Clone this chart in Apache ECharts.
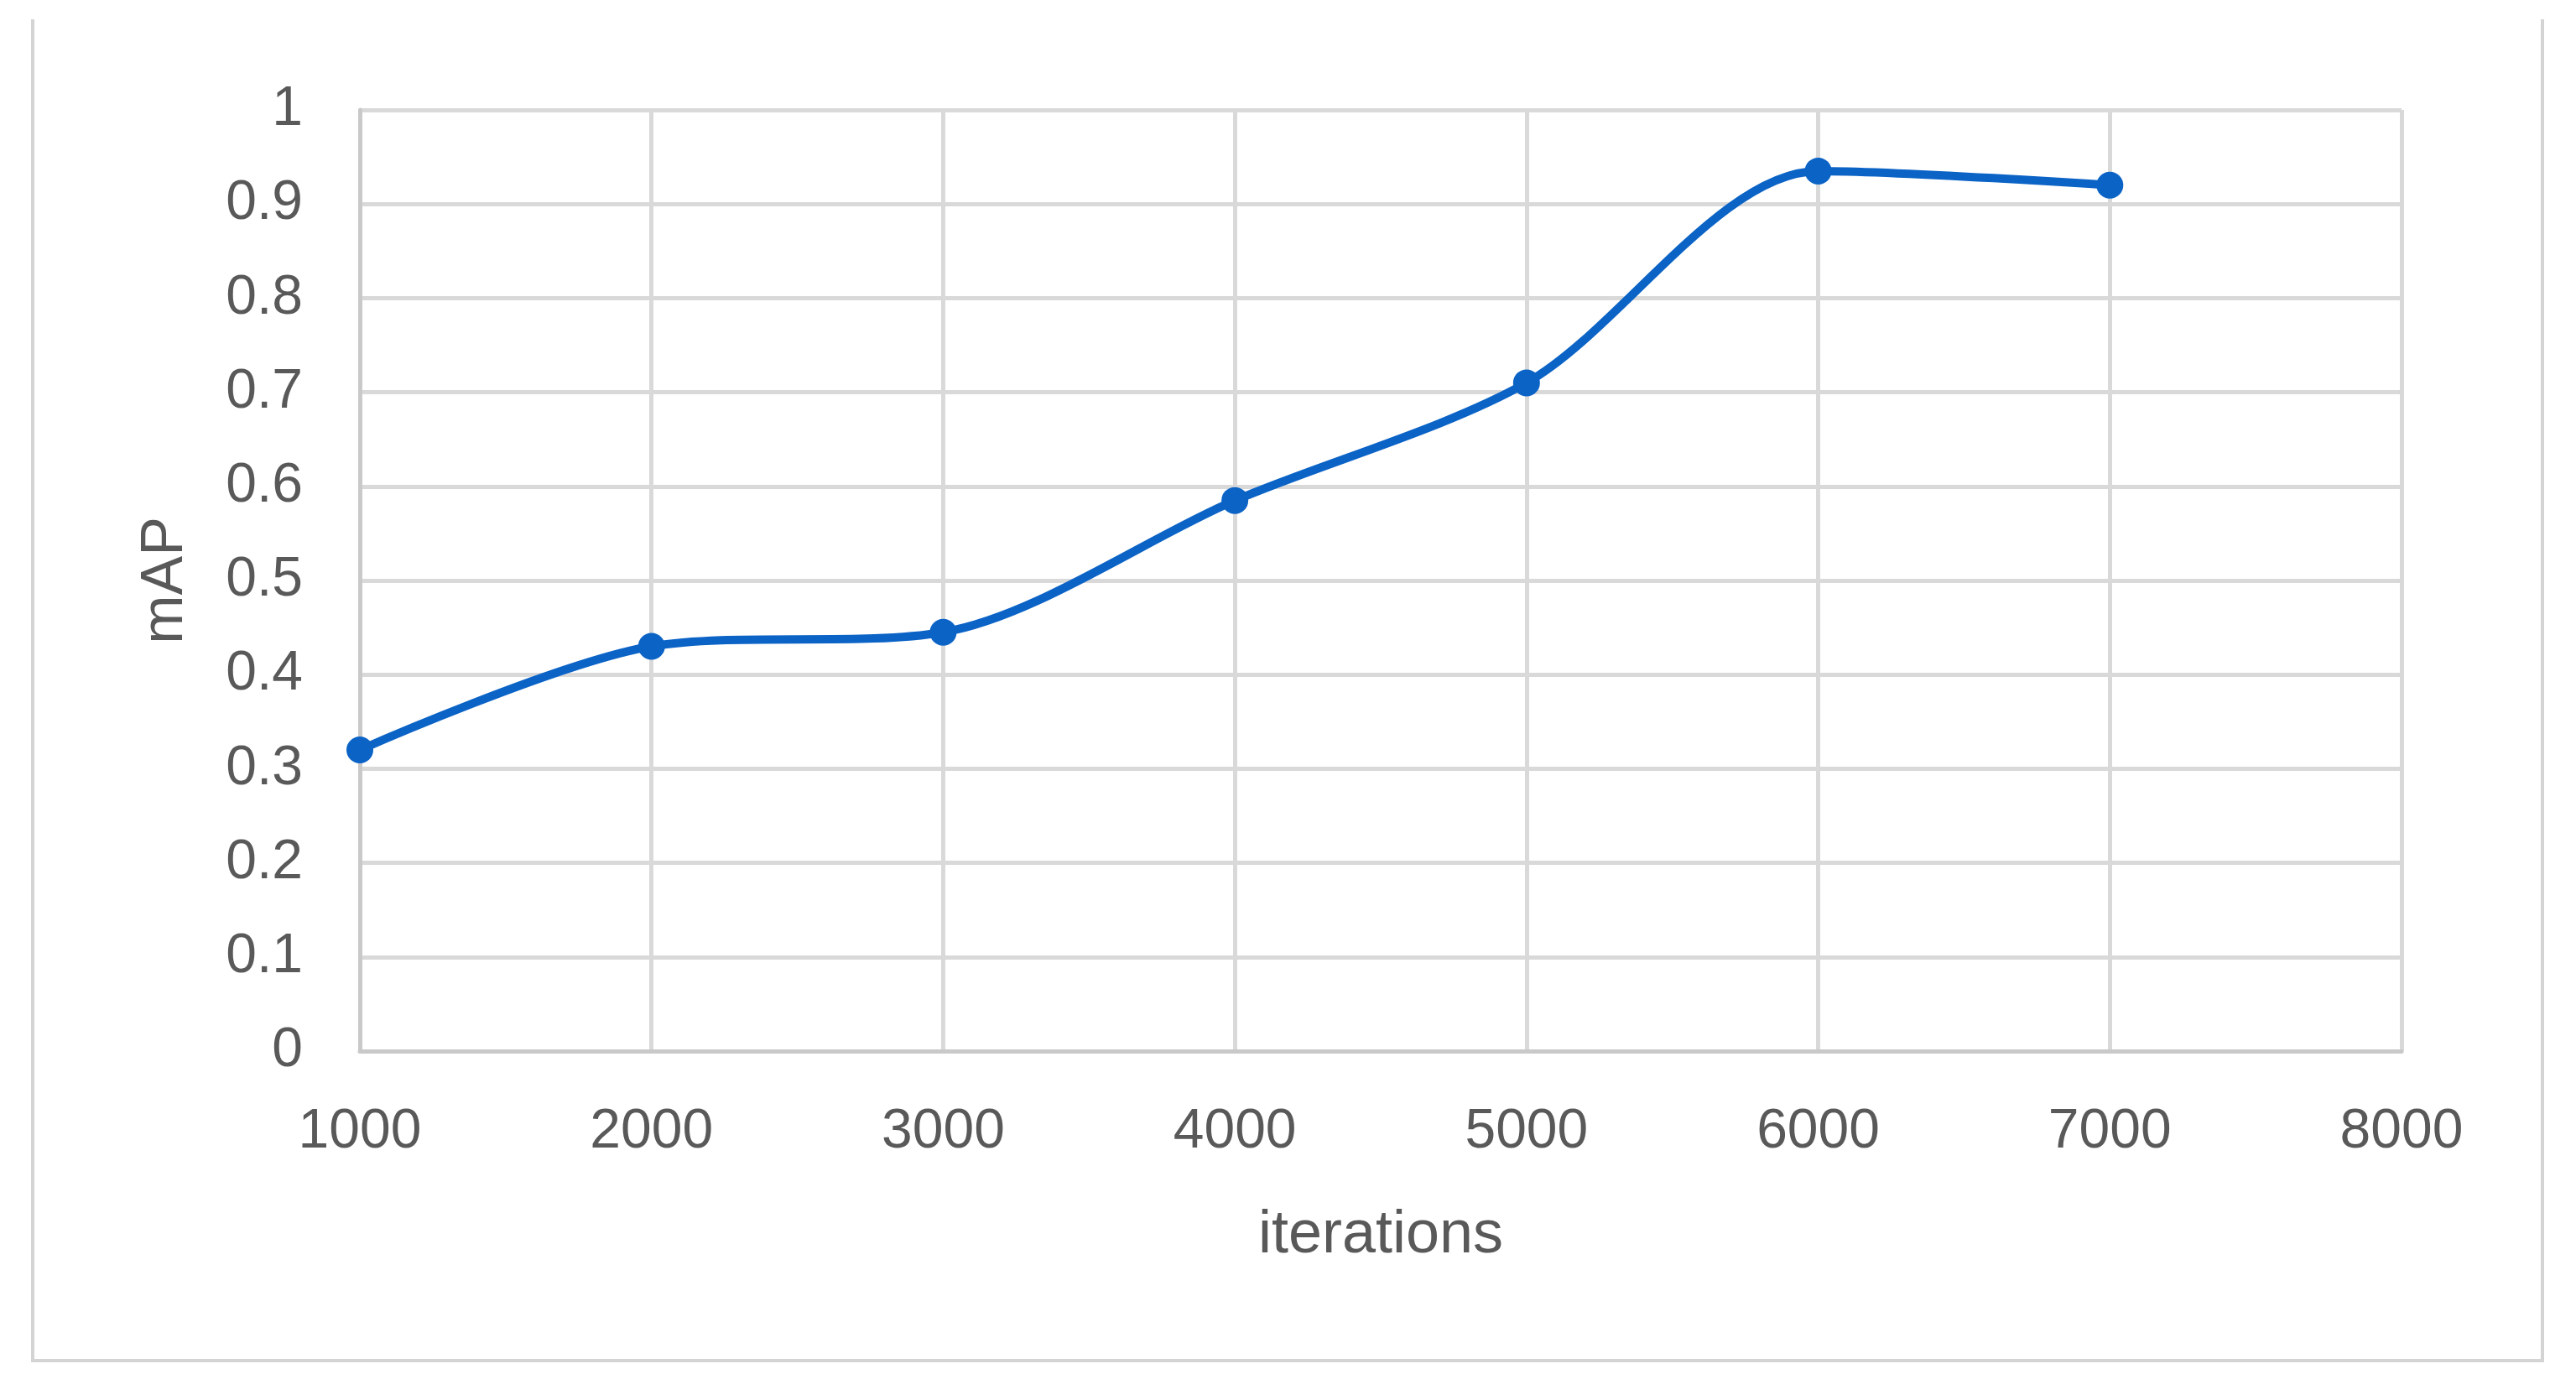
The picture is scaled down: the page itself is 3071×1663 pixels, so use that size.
<!DOCTYPE html>
<html>
<head>
<meta charset="utf-8">
<script src="https://cdn.jsdelivr.net/npm/echarts@6/dist/echarts.min.js"></script>
<style>
  html, body { margin: 0; padding: 0; background: #fff; }
  #chart { width: 3071px; height: 1663px; }
</style>
</head>
<body>
<div id="chart"></div>
<script>
const TEXT = "#595959";
const GRID = "#d9d9d9";
const LINE = "#0b63c6";
const FONT = "'Liberation Sans', Arial, sans-serif";

const iterations = [1000, 2000, 3000, 4000, 5000, 6000, 7000];
const mAP = [0.32, 0.43, 0.445, 0.585, 0.71, 0.935, 0.92];

const chart = echarts.init(document.getElementById("chart"), null, { renderer: "canvas" });

chart.setOption({
  animation: false,
  backgroundColor: "#fff",
  grid: { left: 429, right: 208, top: 131, bottom: 410 },
  xAxis: {
    type: "value",
    min: 1000,
    max: 8000,
    interval: 1000,
    name: "iterations",
    nameLocation: "middle",
    nameGap: 184,
    nameTextStyle: { color: TEXT, fontSize: 72, fontFamily: FONT },
    axisLine: { show: true, lineStyle: { color: "#c9c9c9", width: 5 } },
    axisTick: { show: false },
    axisLabel: {
      color: TEXT, fontSize: 66, fontFamily: FONT, margin: 64,
      formatter: (v) => String(v),
    },
    splitLine: { show: true, lineStyle: { color: GRID, width: 5 } },
  },
  yAxis: {
    type: "value",
    min: 0,
    max: 1,
    interval: 0.1,
    name: "mAP",
    nameLocation: "middle",
    nameGap: 196,
    nameTextStyle: { color: TEXT, fontSize: 70, fontFamily: FONT },
    axisLine: { show: true, lineStyle: { color: "#c9c9c9", width: 5 } },
    axisTick: { show: false },
    axisLabel: { color: TEXT, fontSize: 66, fontFamily: FONT, margin: 68 },
    splitLine: { show: true, lineStyle: { color: GRID, width: 5 } },
  },
  series: [{
    type: "line",
    data: iterations.map((x, i) => [x, mAP[i]]),
    smooth: 0.3,
    symbol: "circle",
    symbolSize: 32,
    lineStyle: { color: LINE, width: 10 },
    itemStyle: { color: LINE },
  }],
  graphic: [{
    type: "polyline",
    shape: { points: [[39, 23], [39, 1622], [3031, 1622], [3031, 23]] },
    style: { stroke: "#d4d4d4", lineWidth: 4, fill: null },
  }],
});
</script>
</body>
</html>
